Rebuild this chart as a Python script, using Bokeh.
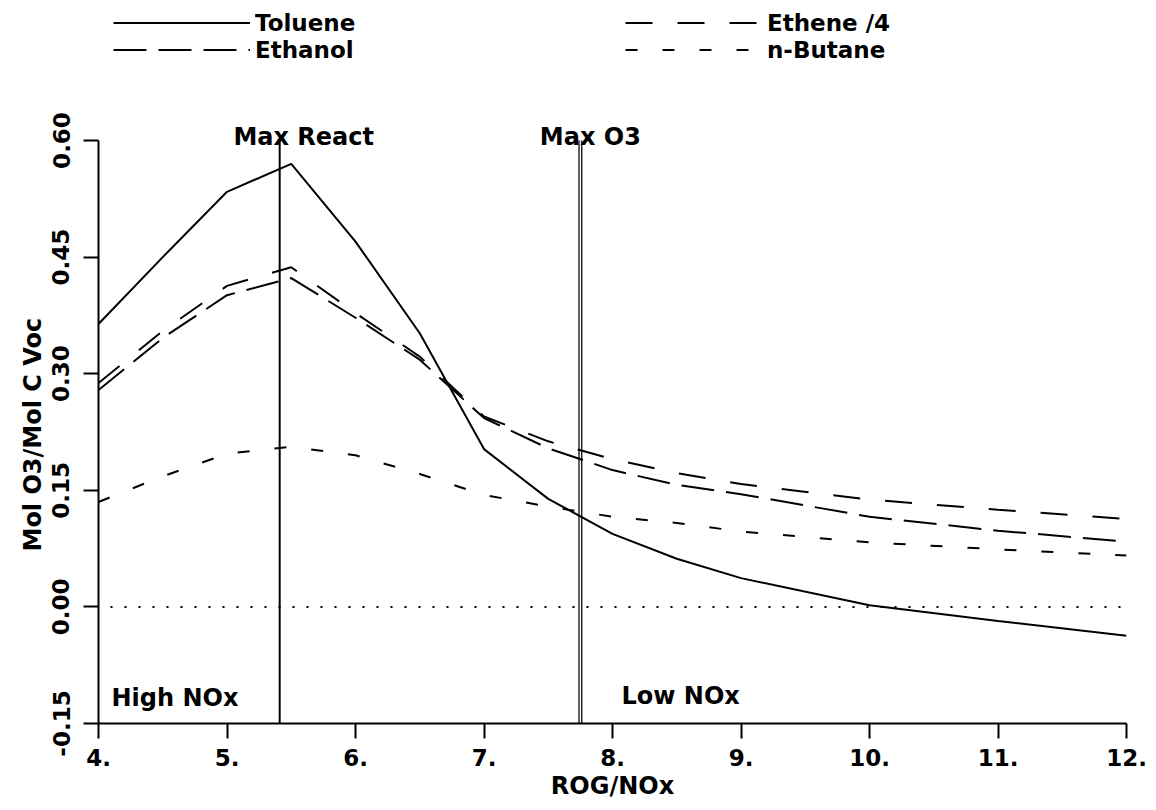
from bokeh.plotting import figure
from bokeh.models import Range1d, FixedTicker, Span, Label, Legend, LegendItem, Title
from bokeh.embed import file_html
from bokeh.resources import INLINE

# ---- data ----
rog_nox = [4.0, 4.5, 5.0, 5.5, 6.0, 6.5, 7.0, 7.5, 8.0, 8.5, 9.0, 10.0, 11.0, 12.0]
toluene = [0.364, 0.450, 0.534, 0.570, 0.470, 0.352, 0.203, 0.139, 0.094, 0.062, 0.037, 0.002, -0.018, -0.037]
ethene_div4 = [0.288, 0.355, 0.413, 0.437, 0.378, 0.322, 0.245, 0.213, 0.190, 0.172, 0.158, 0.138, 0.125, 0.113]
ethanol = [0.279, 0.346, 0.401, 0.423, 0.372, 0.318, 0.243, 0.204, 0.176, 0.157, 0.145, 0.116, 0.098, 0.084]
n_butane = [0.135, 0.168, 0.197, 0.206, 0.195, 0.171, 0.144, 0.129, 0.116, 0.108, 0.097, 0.083, 0.074, 0.066]

max_react_x = 5.41
max_o3_x = 7.75

x_ticks = [4, 5, 6, 7, 8, 9, 10, 11, 12]
x_tick_labels = ["4.", "5.", "6.", "7.", "8.", "9.", "10.", "11.", "12."]
y_ticks = [-0.15, 0.0, 0.15, 0.30, 0.45, 0.60]
y_tick_labels = ["-0.15", "0.00", "0.15", "0.30", "0.45", "0.60"]
y_min, y_max = -0.15, 0.60

FONT = "DejaVu Sans"

# layout (pixels): axes box from y=140 to y=723; frame extended to the top
# of the canvas so the legend and the marker labels sit inside it
AX_TOP, AX_BOTTOM = 140, 723
H = 802
px_per_unit = (AX_BOTTOM - AX_TOP) / (y_max - y_min)
y_top = y_min + AX_BOTTOM / px_per_unit

p = figure(width=1148, height=H,
           x_range=Range1d(4, 12), y_range=Range1d(y_min, y_top),
           output_backend="svg", toolbar_location=None,
           min_border_left=98, min_border_right=22,
           min_border_top=0, min_border_bottom=H - AX_BOTTOM)
p.outline_line_color = None
p.grid.visible = False
p.background_fill_color = "white"
p.border_fill_color = "white"

# axes
p.xaxis.ticker = FixedTicker(ticks=x_ticks)
p.xaxis.major_label_overrides = {t: l for t, l in zip(x_ticks, x_tick_labels)}
p.yaxis.ticker = FixedTicker(ticks=y_ticks)
p.yaxis.major_label_overrides = {t: l for t, l in zip(y_ticks, y_tick_labels)}
p.yaxis.major_label_orientation = "vertical"
p.yaxis.bounds = (y_min, y_max)
for ax in (p.xaxis, p.yaxis):
    ax.axis_line_width = 2
    ax.axis_line_color = "black"
    ax.major_tick_line_width = 2
    ax.major_tick_line_color = "black"
    ax.major_tick_out = 15
    ax.major_tick_in = 0
    ax.minor_tick_line_color = None
    ax.major_label_text_font = FONT
    ax.major_label_text_font_style = "bold"
    ax.major_label_text_font_size = "23px"
    ax.major_label_text_color = "black"
    ax.axis_label_text_font = FONT
    ax.axis_label_text_font_style = "bold"
    ax.axis_label_text_font_size = "24px"
    ax.axis_label_text_color = "black"
p.xaxis.axis_label = "ROG/NOx"
p.xaxis.major_label_standoff = 10
p.yaxis.major_label_standoff = 14
p.xaxis.axis_label_standoff = 3

# y-axis title, placed beside the axis line (not centred on the extended frame)
ytitle = Title(text="Mol O3/Mol C Voc", align="left", offset=172,
               text_font=FONT, text_font_style="bold", text_font_size="24px",
               text_color="black", standoff=6)
p.add_layout(ytitle, "left")

# reference lines
p.add_layout(Span(location=0, dimension="width", line_color="black",
                  line_width=2, line_dash="2 12", line_dash_offset=-12))
p.segment(x0=[max_react_x], y0=[y_min], x1=[max_react_x], y1=[y_max],
          line_color="black", line_width=2)
p.segment(x0=[max_o3_x], y0=[y_min], x1=[max_o3_x], y1=[y_max],
          line_color="black", line_width=4)
p.segment(x0=[max_o3_x], y0=[y_min], x1=[max_o3_x], y1=[y_max],
          line_color="white", line_width=1.5)

# series
r_tol = p.line(rog_nox, toluene, line_color="black", line_width=2)
r_ene = p.line(rog_nox, ethene_div4, line_color="black", line_width=2, line_dash="27 25")
r_eth = p.line(rog_nox, ethanol, line_color="black", line_width=2, line_dash="33 12")
r_but = p.line(rog_nox, n_butane, line_color="black", line_width=2, line_dash="12 25")

legend = Legend(items=[LegendItem(label="Toluene", renderers=[r_tol]),
                       LegendItem(label="Ethanol", renderers=[r_eth]),
                       LegendItem(label="Ethene /4", renderers=[r_ene]),
                       LegendItem(label="n-Butane", renderers=[r_but])],
                ncols=2, orientation="vertical", location=(15, AX_BOTTOM - 63),
                glyph_width=137, glyph_height=27, label_height=27, label_width=370,
                label_standoff=5, spacing=0, padding=0, margin=0,
                border_line_color=None, background_fill_alpha=0,
                label_text_font=FONT, label_text_font_style="bold",
                label_text_font_size="23px", label_text_color="black")
p.add_layout(legend)

def lab(text, x, y, xo, yo, align="left"):
    p.add_layout(Label(x=x, y=y, x_offset=xo, y_offset=yo, text=text,
                       text_align=align, text_baseline="alphabetic",
                       text_font=FONT, text_font_style="bold",
                       text_font_size="24px", text_color="black"))

lab("Max React", max_react_x, y_max, 24, 4, "center")
lab("Max O3", max_o3_x, y_max, 10, 4, "center")
lab("High NOx", 4, y_min, 13, 26)
lab("Low NOx", 8, y_min, 9, 28)

open("out.html", "w").write(file_html(p, INLINE))
